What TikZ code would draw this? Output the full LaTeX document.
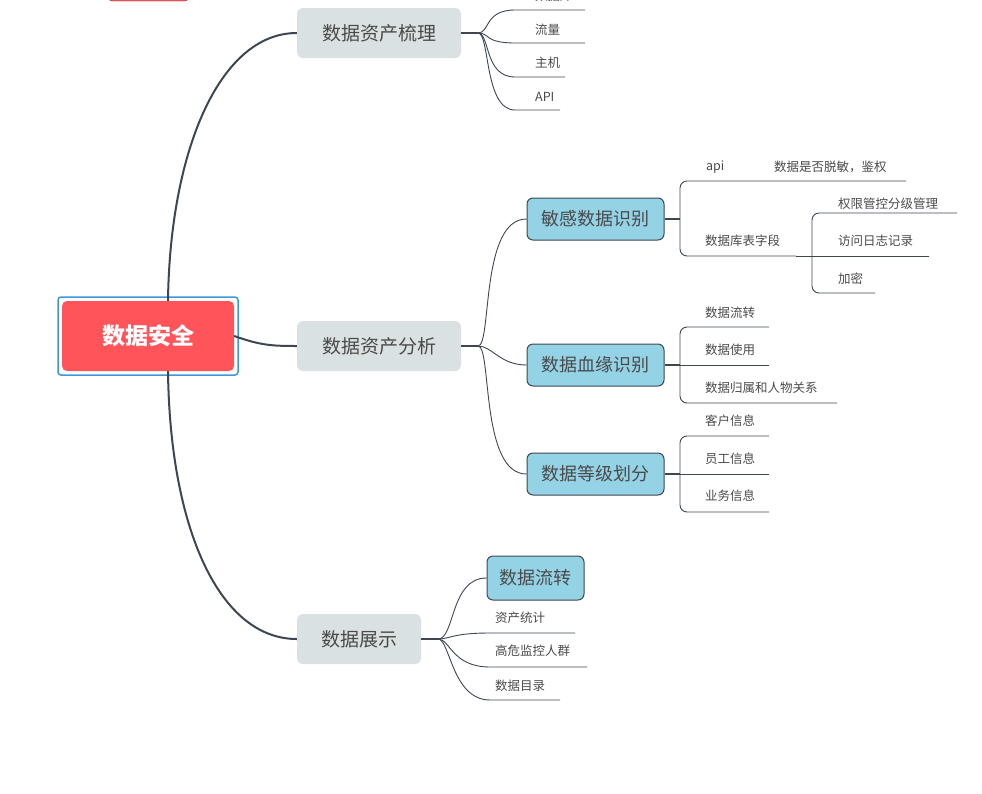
\documentclass[tikz,border=0pt]{standalone}
\usepackage{fontspec}
\setmainfont{Noto Sans CJK SC}
\usetikzlibrary{calc}
\definecolor{rootred}{HTML}{FF5459}
\definecolor{lgrey}{HTML}{DAE1E2}
\definecolor{lblue}{HTML}{94D2E6}
\definecolor{lnk}{HTML}{3D4651}
\definecolor{txt}{HTML}{4A4A4A}
\tikzset{
 l1/.style={fill=lgrey,rounded corners=6pt,text=txt,font=\fontsize{19}{22}\selectfont,inner sep=0pt},
 l2/.style={fill=lblue,draw=lnk,line width=1pt,rounded corners=6pt,text=txt,font=\fontsize{18}{22}\selectfont,inner sep=0pt},
 leaf/.style={text=txt,font=\fontsize{12.5}{15}\selectfont,anchor=west,inner sep=0pt},
 thick1/.style={draw=lnk,line width=2pt},
 thin1/.style={draw=lnk,line width=0.9pt},
}
\begin{document}
\begin{tikzpicture}[x=1pt,y=-1pt]
\useasboundingbox (0,0) rectangle (982,793);
\begin{scope}
\clip (0,0) rectangle (982,793);
\node[draw=lnk!80!red,fill=rootred,rounded corners=5pt,minimum width=83pt,minimum height=40pt,inner sep=0pt] (topbox) at (148.5,-19) {};
\node[leaf] (tdb) at (535,-4) {数据库};
\end{scope}
% root
\node[draw=cyan!70!blue!80,line width=1.5pt,rounded corners=3pt,minimum width=180pt,minimum height=78pt,inner sep=0pt] (rootframe) at (148,336) {};
\node[fill=rootred,rounded corners=5pt,minimum width=172pt,minimum height=70pt,inner sep=0pt,text=white,font=\bfseries\fontsize{23}{26}\selectfont] (root) at (148,336) {数据安全};
% level1
\node[l1,minimum width=164pt,minimum height=50pt] (a) at (379,33) {数据资产梳理};
\node[l1,minimum width=164pt,minimum height=50pt] (b) at (379,346) {数据资产分析};
\node[l1,minimum width=124pt,minimum height=50pt] (c) at (359,639) {数据展示};
\draw[thick1] ($(root.north)+(20,0)$) .. controls (170,150) and (220,33) .. (a.west);
\draw[thick1] (root.east) .. controls (260,345) and (270,346) .. (b.west);
\draw[thick1] ($(root.south)+(20,0)$) .. controls (170,530) and (220,639) .. (c.west);
% A leaves
\coordinate (aj) at (478,33);
\draw[thin1,line width=1.5pt] (a.east) -- (aj);
\node[leaf] (a1) at (535,30) {流量};
\node[leaf] (a2) at (535,63) {主机};
\node[leaf] (a3) at (535,97) {API};
\coordinate (a0e) at (585,10);\coordinate (a1e) at (585,43);\coordinate (a2e) at (565,77);\coordinate (a3e) at (560,110);
\foreach \e in {a0e,a1e,a2e,a3e}{
 \draw[thin1] (aj) .. controls (490,33) and (484,0 |- \e) .. ($(0,0 |- \e)+(515,0)$) -- (\e);}
% B level2
\coordinate (bj) at (478,346);
\draw[thin1,line width=1.5pt] (b.east) -- (bj);
\node[l2,minimum width=137pt,minimum height=42pt] (b1) at (595.5,219) {敏感数据识别};
\node[l2,minimum width=137pt,minimum height=42pt] (b2) at (595.5,365) {数据血缘识别};
\node[l2,minimum width=137pt,minimum height=42pt] (b3) at (595.5,474) {数据等级划分};
\draw[thin1] (bj) .. controls (492,346) and (480,219) .. (b1.west);
\draw[thin1] (bj) .. controls (492,346) and (500,365) .. (b2.west);
\draw[thin1] (bj) .. controls (492,346) and (480,474) .. (b3.west);
% b1
\draw[thin1,line width=1.5pt] (b1.east) -- (680,219);
\node[leaf] (api) at (706,167) {api};
\node[leaf] (apid) at (774,167) {数据是否脱敏，鉴权};
\node[leaf] (dbf) at (705,241) {数据库表字段};
\draw[thin1,rounded corners=7pt] (906,181) -- (680,181) -- (680,256) -- (796,256);
\draw[thin1] (796,256) -- (812,256);
\node[leaf] (p1) at (838,204) {权限管控分级管理};
\node[leaf] (p2) at (838,241) {访问日志记录};
\node[leaf] (p3) at (838,279) {加密};
\draw[thin1,rounded corners=7pt] (957,213) -- (812,213) -- (812,293) -- (875,293);
\draw[thin1] (812,256) -- (929,256);
% b2
\draw[thin1,line width=1.5pt] (b2.east) -- (680,365);
\node[leaf] (q1) at (705,313) {数据流转};
\node[leaf] (q2) at (705,350) {数据使用};
\node[leaf] (q3) at (705,388) {数据归属和人物关系};
\draw[thin1,rounded corners=7pt] (769,327) -- (680,327) -- (680,403) -- (837,403);
\draw[thin1] (680,365) -- (769,365);
% b3
\draw[thin1,line width=1.5pt] (b3.east) -- (680,474);
\node[leaf] (r1) at (705,421) {客户信息};
\node[leaf] (r2) at (705,459) {员工信息};
\node[leaf] (r3) at (705,496) {业务信息};
\draw[thin1,rounded corners=7pt] (769,436) -- (680,436) -- (680,512) -- (769,512);
\draw[thin1] (680,474) -- (769,474);
% C
\coordinate (cj) at (438,639);
\draw[thin1,line width=1.5pt] (c.east) -- (cj);
\node[l2,minimum width=97pt,minimum height=44pt] (c1) at (535.5,578) {数据流转};
\draw[thin1] (cj) .. controls (455,639) and (450,578) .. (c1.west);
\node[leaf] (s1) at (495,618) {资产统计};
\node[leaf] (s2) at (495,651) {高危监控人群};
\node[leaf] (s3) at (495,686) {数据目录};
\coordinate (s1e) at (575,633);\coordinate (s2e) at (587,667);\coordinate (s3e) at (560,700);
\foreach \e in {s1e,s2e,s3e}{
 \draw[thin1] (cj) .. controls (450,639) and (452,0 |- \e) .. ($(0,0 |- \e)+(490,0)$) -- (\e);}
\end{tikzpicture}
\end{document}
